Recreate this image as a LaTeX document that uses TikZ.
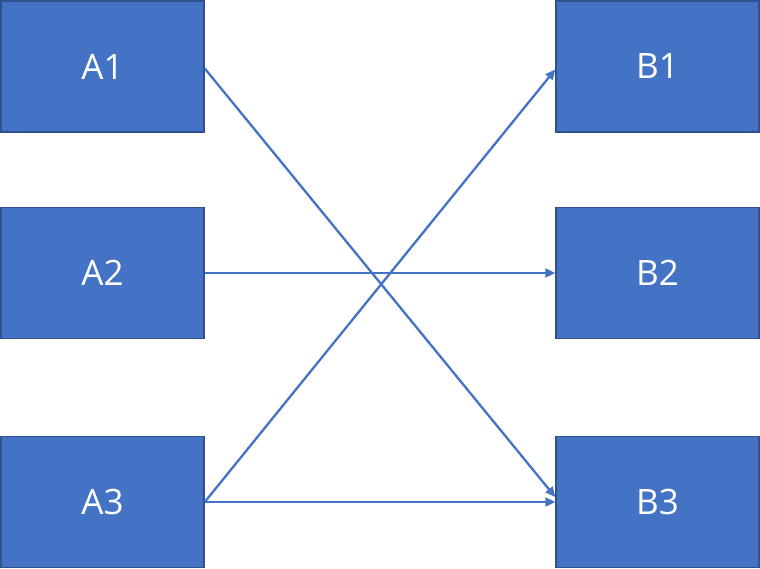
\documentclass[tikz,border=0pt]{standalone}
\usepackage{fontspec}
\setmainfont{Open Sans}
\usetikzlibrary{arrows.meta}
\definecolor{boxfill}{HTML}{4472C4}
\definecolor{boxline}{HTML}{2F528F}
\begin{document}
\begin{tikzpicture}[x=1pt,y=-1pt,
  blk/.style={draw=boxline,line width=1.5pt,fill=boxfill,minimum width=203pt,minimum height=131pt,inner sep=0pt,text=white,font=\fontsize{35}{40}\selectfont},
  conn/.style={draw=boxfill,line width=2.3pt,-{Triangle[length=10pt,width=9pt]}}]
\useasboundingbox (0,0) rectangle (760,569);
\node[blk] (A1) at (102.5,66.5) {A1};
\node[blk] (A2) at (102.5,273) {A2};
\node[blk] (A3) at (102.5,502) {A3};
\node[blk] (B1) at (657.5,66.5) {B1};
\node[blk] (B2) at (657.5,273) {B2};
\node[blk] (B3) at (657.5,502) {B3};
\coordinate (B1in) at ([yshift=-3pt]B1.west);
\coordinate (B3in) at ([yshift=5pt]B3.west);
\coordinate (A1out) at ([yshift=-2pt]A1.east);
\draw[conn] (A1out) -- (B3in);
\draw[conn] (A2.east) -- (B2.west);
\draw[conn] (A3.east) -- (B1in);
\draw[conn] (A3.east) -- (B3.west);
\end{tikzpicture}
\end{document}
